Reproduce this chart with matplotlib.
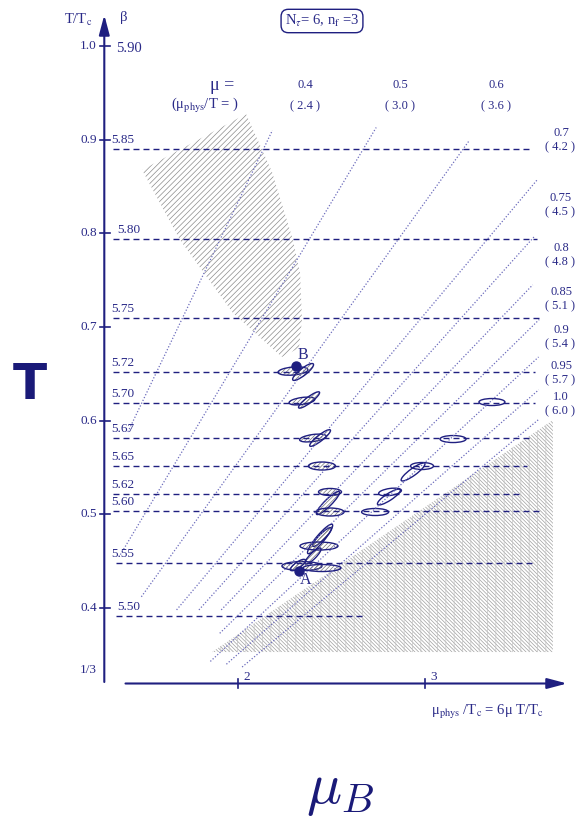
import matplotlib.pyplot as plt
from matplotlib.patches import Ellipse, Polygon
from matplotlib.transforms import ScaledTranslation

plt.rcParams["font.family"] = ["Liberation Serif", "DejaVu Serif"]
plt.rcParams["mathtext.fontset"] = "stix"
plt.rcParams["hatch.linewidth"] = 0.5

NAVY = "#1f1f80"
TEXT = "#2a2a88"
DOT = "#6c6cbc"

# beta lines: lattice coupling and the T/Tc they sit at
beta_vals = ["5.85", "5.80", "5.75", "5.72", "5.70", "5.67", "5.65", "5.62", "5.60", "5.55", "5.50"]
beta_T = [0.890, 0.794, 0.710, 0.652, 0.619, 0.5815, 0.5516, 0.5217, 0.5036, 0.448, 0.3915]
beta_xend = [3.578, 3.599, 3.620, 3.588, 3.588, 3.561, 3.545, 3.524, 3.615, 3.578, 2.679]

# constant mu lines: mu_phys/Tc = 6 mu T/Tc
mu_vals = [0.4, 0.5, 0.6, 0.7, 0.75, 0.8, 0.85, 0.9, 0.95, 1.0]
mu_T_low = [0.588, 0.457, 0.412, 0.398, 0.398, 0.398, 0.373, 0.343, 0.340, 0.337]
mu_T_high = [0.910, 0.913, 0.898, 0.858, 0.797, 0.745, 0.708, 0.668, 0.633, 0.602]

# y axis ticks
T_ticks = [1.0, 0.9, 0.8, 0.7, 0.6, 0.5, 0.4]
T_ticklabels = ["1.0", "0.9", "0.8", "0.7", "0.6", "0.5", "0.4"]

# measured points (mu_phys/Tc, T/Tc)
ell_x = [2.294, 2.348, 2.342, 2.380, 2.401, 2.439, 2.449, 2.492, 2.481, 2.492,
         2.439, 2.449, 2.433, 2.401, 2.342, 2.449, 2.321,
         2.733, 2.813, 2.807, 2.984, 2.936, 3.150, 3.358]
ell_T = [0.6530, 0.6520, 0.6210, 0.6221, 0.5815, 0.5815, 0.5516, 0.5239, 0.5121, 0.5025,
         0.4737, 0.4758, 0.4662, 0.4555, 0.4448, 0.4427, 0.4459,
         0.5025, 0.5239, 0.5185, 0.5516, 0.5452, 0.5804, 0.6199]
ell_w = [30, 26, 26, 26, 27, 26, 27, 23, 32, 28, 38, 26, 38, 22, 40, 38, 18, 27, 23, 27, 23, 29, 26, 26]
ell_h = [8, 7, 7, 6, 7, 6, 8, 7, 7, 8, 8, 6, 8, 6, 9, 7, 6, 7, 7, 7, 7, 7, 7, 7]
ell_ang = [5, 38, 8, 37, 8, 38, 0, 0, 45, 0, 50, 45, 0, 45, 0, 0, 35, 0, 8, 33, 0, 36, 0, 0]
ell_hatch = [True] * 17 + [False] * 7

pts_name = ["A", "B"]
pts_x = [2.326, 2.310]
pts_T = [0.4395, 0.6584]

# hatched regions
upper_x = [2.043, 2.182, 2.294, 2.332, 2.342, 2.326, 2.235, 1.973, 1.690, 1.487]
upper_T = [0.9274, 0.8655, 0.7929, 0.7577, 0.7075, 0.6776, 0.6680, 0.7150, 0.7929, 0.8676]
lower_x = [1.861, 3.684, 3.684]
lower_T = [0.3530, 0.6007, 0.3530]


def px(p):
    return 2 + (p - 238) / 187.0


def py(p):
    return 1 - (p - 46) / 936.7


fig = plt.figure(figsize=(5.77, 8.22), dpi=100)
ax = fig.add_axes([0, 0, 1, 1])
ax.set_xlim(px(0), px(577))
ax.set_ylim(py(822), py(0))
ax.axis("off")

# hatched regions
ax.add_patch(Polygon(list(zip(upper_x, upper_T)), closed=True, facecolor="none",
                     edgecolor="#8c8c8c", lw=0, hatch="//////"))
ax.add_patch(Polygon(list(zip(lower_x, lower_T)), closed=True, facecolor="none",
                     edgecolor="#a0a0a0", lw=0, hatch="\\\\\\\\\\\\\\\\\\"))
ax.add_patch(Polygon(list(zip(lower_x, lower_T)), closed=True, facecolor="none",
                     edgecolor="#c4c4c4", lw=0, hatch="||"))

# mu lines
for mu, tl, th in zip(mu_vals, mu_T_low, mu_T_high):
    ax.plot([6 * mu * tl, 6 * mu * th], [tl, th], color=DOT, lw=0.9,
            linestyle=(0, (1, 1.5)))

# beta lines
for b, t, xe in zip(beta_vals, beta_T, beta_xend):
    xs = px(116) if b in ("5.55", "5.50") else px(113)
    ax.plot([xs, xe], [t, t], color=NAVY, lw=1.0, linestyle=(0, (4.3, 2.9)))
    lx = px(117) if b in ("5.80", "5.50") else px(111)
    ax.annotate(b, (lx, t), xytext=(0, 2), textcoords="offset points",
                ha="left", va="bottom", fontsize=9.5, color=TEXT)
ax.text(px(116), py(48), "5.90", ha="left", va="center", fontsize=10.5, color=TEXT)

# ellipses
for x, t, w, h, a, hh in zip(ell_x, ell_T, ell_w, ell_h, ell_ang, ell_hatch):
    tr = fig.dpi_scale_trans + ScaledTranslation(x, t, ax.transData)
    if hh:
        ax.add_patch(Ellipse((0, 0), w / 100, h / 100, angle=a, transform=tr,
                             facecolor="none", edgecolor="#777777", lw=0, hatch="////////"))
    ax.add_patch(Ellipse((0, 0), w / 100, h / 100, angle=a, transform=tr,
                         facecolor="none", edgecolor=NAVY, lw=1.0))

# points A and B
ax.plot(pts_x, pts_T, "o", color=NAVY, ms=6.5, zorder=5)
ax.text(px(306), py(580), "A", ha="center", va="center", fontsize=11.5, color=TEXT)
ax.text(px(303), py(355), "B", ha="center", va="center", fontsize=11.5, color=TEXT)

# axes with arrows
arrow = dict(arrowstyle="-|>,head_length=1.2,head_width=0.32", color=NAVY, lw=1.5,
             mutation_scale=10, shrinkA=0, shrinkB=0)
ax.annotate("", xy=(px(104.3), py(15)), xytext=(px(104.3), py(682)), arrowprops=arrow)
ax.annotate("", xy=(px(567), py(683.5)), xytext=(px(125.5), py(683.5)), arrowprops=arrow)

for t, lab in zip(T_ticks, T_ticklabels):
    ax.plot([px(100), px(110)], [t, t], color=NAVY, lw=1.2)
    ax.text(px(97), t, lab, ha="right", va="center", fontsize=9.5, color=TEXT)
ax.text(px(97), 1 / 3, "1/3", ha="right", va="center", fontsize=9.5, color=TEXT)

for xv in [2, 3]:
    ax.plot([xv, xv], [py(679), py(688)], color=NAVY, lw=1.2)
    ax.text(xv + 0.045, py(677), str(xv), ha="center", va="center", fontsize=9.5, color=TEXT)

ax.text(px(78), py(20), r"T/T$_{\rm c}$", ha="center", va="center", fontsize=10.5, color=TEXT)
ax.text(px(124), py(17), "β", ha="center", va="center", fontsize=10.5, color=TEXT)
ax.text(px(488), py(712), r"μ$_{\rm phys}$ /T$_{\rm c}$ = 6μ T/T$_{\rm c}$",
        ha="center", va="center", fontsize=10.5, color=TEXT)

# box
ax.text(px(322), py(21), r"N$_\tau$= 6, n$_{\rm f}$ =3", ha="center", va="center",
        fontsize=10.5, color=TEXT,
        bbox=dict(boxstyle="round,pad=0.25,rounding_size=0.5", facecolor="white",
                  edgecolor=NAVY, lw=1))

# mu labels
ax.text(px(222), py(85), "μ =", ha="center", va="center", fontsize=13, color=TEXT)
ax.text(px(205), py(106), r"(μ$_{\rm phys}$/T = )", ha="center", va="center",
        fontsize=10.5, color=TEXT)
top_px = [305, 400, 496]
for mu, xp in zip(mu_vals[:3], top_px):
    ax.text(px(xp), py(85), f"{mu:.1f}", ha="center", va="center", fontsize=9, color=TEXT)
    ax.text(px(xp), py(106), f"( {6 * mu:.1f} )", ha="center", va="center",
            fontsize=9, color=TEXT)
right_py = [133, 198, 248, 292, 330, 366, 397]
for mu, yp in zip(mu_vals[3:], right_py):
    lab = f"{mu:.1f}" if mu in (0.7, 0.8, 0.9, 1.0) else f"{mu:.2f}"
    ax.text(px(561), py(yp), lab, ha="center", va="center", fontsize=9, color=TEXT)
    ax.text(px(560), py(yp + 14), f"( {6 * mu:.1f} )", ha="center", va="center",
            fontsize=9, color=TEXT)

# big axis names
ax.text(px(30), py(385), "T", ha="center", va="center", fontsize=36,
        fontweight="bold", family="DejaVu Sans", color="#1a1a78")
ax.text(px(340), py(792), r"$\mu_B$", ha="center", va="center", fontsize=42,
        color="#1a1a78", math_fontfamily="cm")

fig.savefig("out.png", dpi=100)
